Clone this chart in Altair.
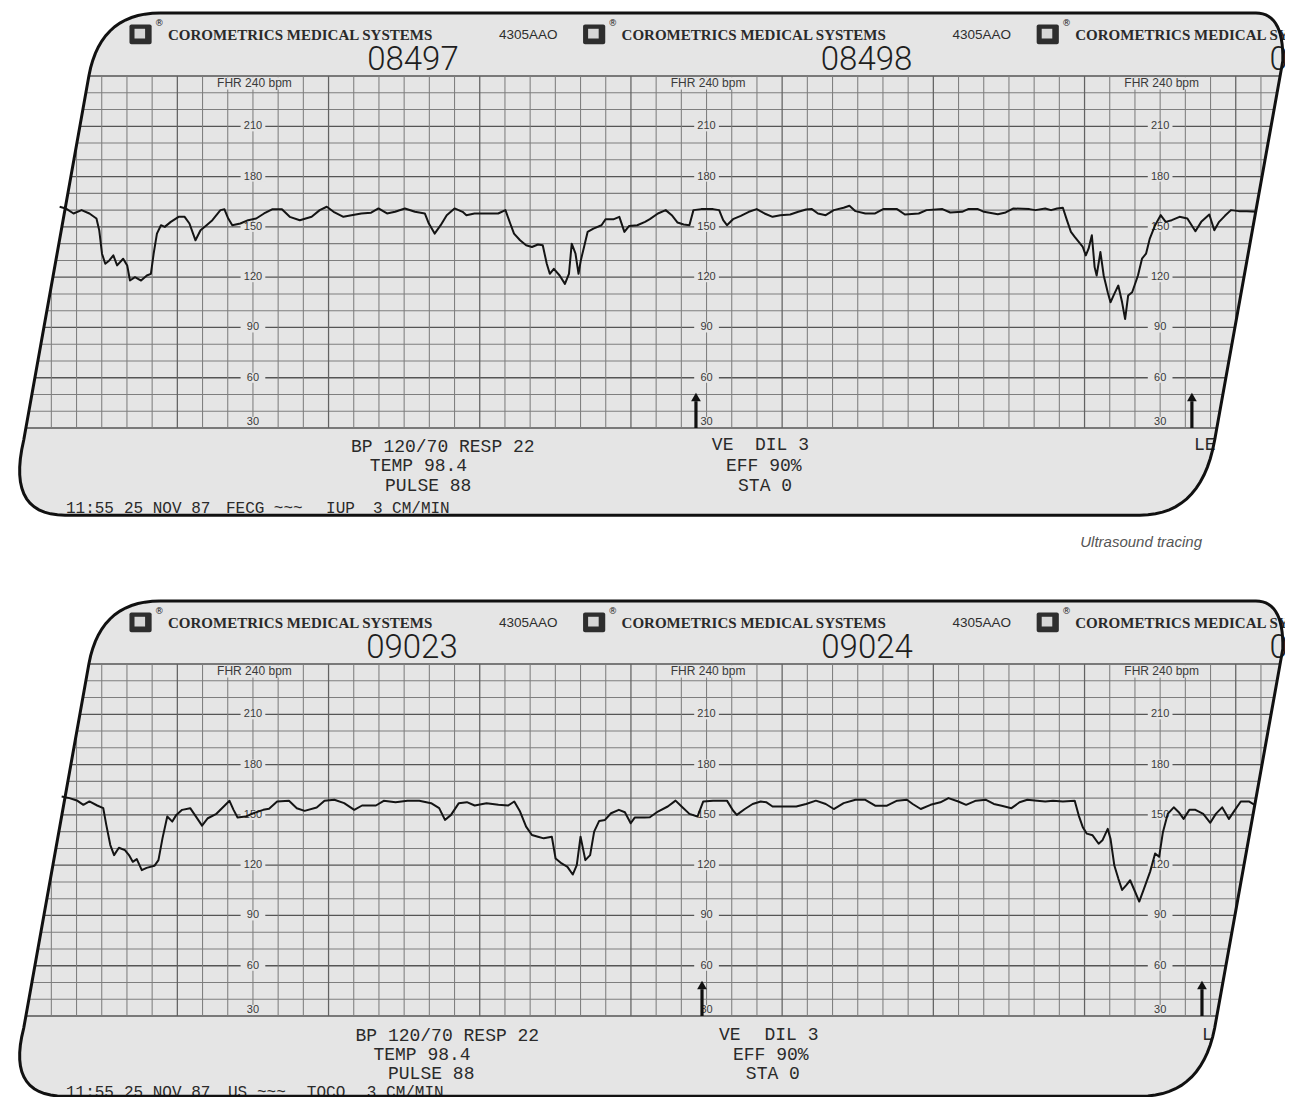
import altair as alt
import pandas as pd
import numpy as np

# ---------------- values ----------------
# time in seconds relative to the first printed scale column, FHR in bpm
top_time = [-76.7, -74.3, -71.2, -68.0, -64.9, -62.1, -61.0, -59.9, -58.6, -57.0,
            -55.4, -53.9, -51.5, -49.9, -48.8, -46.8, -44.4, -42.1, -40.5, -39.4,
            -38.1, -36.5, -35.0, -32.6, -29.5, -27.1, -25.2, -22.8, -20.8, -18.4,
            -16.1, -12.9, -11.3, -9.8, -8.2, -5.0, -1.9, 1.3, 4.4, 7.6,
            11.5, 14.6, 18.6, 23.3, 26.5, 29.3, 32.0, 35.9, 39.1, 43.0,
            46.9, 49.8, 53.2, 56.4, 60.3, 64.3, 68.2, 69.8, 72.1, 74.5,
            76.9, 80.0, 83.2, 84.7, 87.9, 92.6, 97.3, 100.2, 102.1, 103.6,
            106.0, 108.4, 110.7, 113.1, 115.0, 116.6, 117.8, 119.4, 121.7, 123.8,
            125.4, 126.5, 128.0, 129.2, 130.1, 131.7, 132.8, 135.1, 138.3, 139.9,
            143.0, 145.4, 147.4, 149.3, 152.5, 155.6,
            157.5, 160.7, 163.8, 166.2, 168.5, 170.9, 173.2, 174.8, 177.9, 182.6,
            185.0, 186.6, 188.1, 190.5, 193.6, 196.8, 199.9, 203.0, 206.2, 209.3,
            213.2, 216.4, 219.5, 221.8, 224.2, 227.3, 230.5, 234.4, 236.7, 239.1,
            243.0, 246.9, 250.1, 255.6, 258.7, 264.2, 267.3, 273.6, 276.7, 281.4,
            283.8, 287.7, 290.1, 295.6, 298.7, 301.8, 308.1, 310.5, 314.4, 316.7,
            319.1, 321.4, 323.0, 324.6, 326.1, 327.7, 329.3, 330.5, 331.6, 332.9,
            334.0, 334.8, 336.3, 337.6, 339.2, 340.3, 341.8, 343.4, 344.9, 346.1,
            347.3, 348.9, 351.2, 352.8, 354.4, 355.9, 358.0, 360.2, 362.2, 364.6,
            367.7, 370.8, 374.0, 376.3, 379.5, 381.5, 383.4, 385.7, 388.1, 391.2,
            394.4, 398.3]
top_fhr = [162, 161, 158, 160, 158, 155, 148, 134, 128, 130,
           133, 127, 131, 127, 118, 120, 118, 121, 122, 134,
           146, 151, 150, 153, 156, 156, 152, 142, 148, 151,
           154, 160, 160.5, 155, 151, 152, 154, 155, 158, 160.5,
           160.5, 156, 154, 156, 160, 162, 159, 156, 157, 158,
           158.5, 161, 158, 159, 161, 159, 158, 152, 146, 151,
           157, 161, 159, 157, 158, 158, 158, 160, 152, 146,
           142, 139, 138, 139.5, 139, 128, 122, 125, 121, 116,
           122, 140, 134, 122, 130, 140, 147, 149, 151, 154.5,
           154.5, 156, 147, 150.6, 151, 153,
           154.6, 158, 160, 157, 152.6, 151.4, 151, 160, 160.6, 160.6,
           160, 154, 151, 154.6, 156.6, 159, 160.6, 158, 156, 157,
           157.4, 159, 160.4, 160.6, 158, 157, 160, 161.4, 162.6, 159.4,
           158, 158, 160.6, 160.6, 157.4, 158, 160, 160.6, 158.6, 159,
           160.6, 160.6, 159, 157.6, 158.6, 161, 160.6, 160, 161, 160,
           161, 161.4, 154, 147, 144, 141, 138, 133, 137, 145,
           126, 121, 135, 121, 111, 105, 110, 115, 105, 95,
           109, 111, 121, 131, 134, 143, 151, 157, 153, 154,
           156, 155, 147.4, 153, 157.4, 148, 153, 156.6, 160, 159.4,
           159.4, 159]

bottom_time = [-75.9, -72.8, -69.6, -67.3, -64.9, -61.8, -59.4, -58.2, -56.6, -55.1,
               -53.2, -50.8, -49.2, -47.7, -46.1, -44.1, -42.2, -39.1, -37.5, -35.9,
               -34.0, -32.0, -30.4, -28.1, -24.9, -22.6, -20.2, -17.9, -14.7, -11.6,
               -9.3, -7.7, -6.1, -3.0, 0.2, 4.1, 6.4, 9.6, 14.3, 17.4,
               20.5, 25.3, 28.4, 32.3, 36.2, 40.2, 43.3, 48.8, 51.9, 56.6,
               61.3, 66.0, 70.7, 73.9, 76.2, 78.6, 81.7, 84.9, 88.0, 92.7,
               97.4, 101.3, 103.7, 106.0, 108.4, 110.7, 113.1, 115.4, 118.6, 120.1,
               122.5, 124.8, 126.9, 128.5, 130.0, 131.9, 133.8, 135.4, 137.4, 139.7,
               142.1, 145.2, 147.6, 149.9, 151.5, 155.4,
               157.5, 160.7, 164.6, 167.7, 170.1, 173.2, 176.4, 178.7, 182.6, 188.1,
               190.5, 192.0, 195.2, 198.3, 201.5, 203.8, 206.2, 210.9, 215.6, 219.5,
               223.4, 227.3, 230.5, 234.4, 239.1, 243.0, 246.9, 251.6, 255.6, 259.5,
               261.8, 265.0, 268.9, 272.8, 276.0, 279.9, 283.0, 286.9, 290.9, 294.0,
               297.1, 301.0, 304.2, 307.3, 311.2, 314.4, 317.5, 321.4, 326.1, 327.7,
               329.3, 330.9, 333.2, 335.6, 337.1, 339.2, 340.3, 341.8, 343.4, 344.9,
               346.5, 348.1, 350.1, 351.7, 353.6, 356.0, 358.0, 359.6, 361.1, 363.0,
               365.4, 367.4, 369.3, 371.6, 374.0, 377.1, 379.9, 382.1, 384.6, 387.3,
               389.7, 392.0, 395.2, 397.5]
bottom_fhr = [161, 160, 158.4, 156, 158, 155.6, 154, 144, 132, 126,
              130.4, 129, 126, 122, 123.6, 117, 118.4, 119.6, 123, 136,
              149, 146, 150, 153, 154, 149, 143.6, 148, 150.4, 155,
              158.4, 153, 148.4, 149, 151, 153, 153.6, 158, 158.4, 154,
              152.4, 154.4, 158.4, 159, 157, 153, 155.6, 155.6, 158.4, 157.6,
              158.4, 158.4, 157, 154, 147, 150, 157, 157.6, 155.6, 157,
              156, 155.6, 158, 152, 143, 138, 137, 136, 137, 124,
              121, 119, 114.4, 120, 137, 123, 126, 140, 146.4, 147,
              151, 153, 151.6, 145, 148.4, 148.4,
              148.6, 152, 155, 158.5, 155, 150.6, 149, 158, 158.5, 158.5,
              152.6, 150, 153.5, 156.5, 158, 157.5, 155, 155, 155, 156.5,
              158.5, 156.5, 153.5, 157, 159, 159, 155.5, 155.5, 158.5, 159,
              156.5, 153.5, 156, 157.5, 160, 158, 156, 158.5, 159, 156.5,
              155.5, 154, 157.5, 159, 158.5, 158, 158.5, 158, 158.5, 149.6,
              142.7, 138.8, 137.8, 132.8, 134.8, 141.7, 135.8, 120, 112, 105.2,
              108, 111, 104, 98.3, 106, 116, 127, 125, 139.7, 150.6,
              154.5, 151.6, 147.6, 153, 153, 150.6, 145.3, 150.6, 154.5, 147.6,
              153, 158, 158, 156]

scale_values = [210, 180, 150, 120, 90, 60, 30]
scale_columns = [0, 180, 360]
top_pages = ["08497", "08498", "0"]
bottom_pages = ["09023", "09024", "0"]
top_notes = ["BP 120/70 RESP 22", "TEMP 98.4", "PULSE 88", "VE", "DIL 3", "EFF 90%", "STA 0", "LE"]
bottom_notes = ["BP 120/70 RESP 22", "TEMP 98.4", "PULSE 88", "VE", "DIL 3", "EFF 90%", "STA 0", "L"]
top_status = ["11:55", "25 NOV 87", "FECG", "~~~", "IUP", "3 CM/MIN"]
bottom_status = ["11:55", "25 NOV 87", "US", "~~~", "TOCO", "3 CM/MIN"]

# ---------------- layout (data units: seconds / bpm) ----------------
W, H = 1277, 1089
PX_T = 2.52          # px per second
PX_B = 1.676         # px per bpm
T_DOMAIN = [-97.2, -97.2 + W / PX_T]
Y_DOMAIN = [280.6 - H / PX_B, 280.6]
PANEL_SHIFT = 588 / PX_B   # second strip sits 588 px lower

PAPER = "#e5e5e5"
THIN = "#7e7e7e"
THICK = "#555555"
VTHICK = "#626262"
INK = "#141414"


def left_edge(b):
    return -90.1 + 0.119 * (b - 30)


def right_edge(b):
    return 382.5 + 0.1195 * (b - 30)


def bez(p0, p1, p2, n=16):
    s = np.linspace(0, 1, n)
    t = (1 - s) ** 2 * p0[0] + 2 * (1 - s) * s * p1[0] + s ** 2 * p2[0]
    b = (1 - s) ** 2 * p0[1] + 2 * (1 - s) * s * p1[1] + s ** 2 * p2[1]
    return list(zip(t, b))


def frame_points(bt, bb):
    pts = [(-36.9, bt)]
    pts += bez((398.0, bt), (409.1, bt), (right_edge(249.0), 249.0))
    pts += bez((right_edge(22.8), 22.8), (376.3, bb), (352.0, bb))
    pts += bez((-74.6, bb), (-98.0, bb), (left_edge(22.8), 22.8))
    pts += bez((left_edge(240), 240), (-60.6, bt), (-36.9, bt))
    return pd.DataFrame({"t": [p[0] for p in pts], "b": [p[1] for p in pts],
                         "o": list(range(len(pts)))})


hrows = []
for v in range(30, 250, 10):
    hrows.append({"t": left_edge(v), "t2": right_edge(v), "b": v, "thick": v % 30 == 0})
hgrid = pd.DataFrame(hrows)
vrows = []
for tt in range(-90, 410, 10):
    lo, hi = 30.0, 240.0
    if tt < left_edge(240):
        hi = 30 + (tt - left_edge(30)) / 0.119
    if tt > right_edge(30):
        lo = 30 + (tt - right_edge(30)) / 0.1195
    if hi - lo > 1:
        vrows.append({"t": tt, "b": lo, "b2": hi, "thick": (tt - 30) % 60 == 0})
vgrid = pd.DataFrame(vrows)

lab_rows, bg_rows = [], []
for c in scale_columns:
    for v in scale_values:
        bpos = 33.6 if v == 30 else v
        lab_rows.append({"t": c, "b": bpos, "txt": str(v)})
        bg_rows.append({"t": c - 4.9, "t2": c + 4.9, "b": bpos - 3.0, "b2": bpos + 3.0})
    lab_rows.append({"t": c + 0.6, "b": 235.6, "txt": "FHR 240 bpm"})
    bg_rows.append({"t": c - 16.5, "t2": c + 17.5, "b": 232.0, "b2": 239.3})
labels_df = pd.DataFrame(lab_rows)
labbg_df = pd.DataFrame(bg_rows)

xs = alt.Scale(domain=T_DOMAIN, nice=False, zero=False)
ys = alt.Scale(domain=Y_DOMAIN, nice=False, zero=False)


def X(f):
    return alt.X(f, type="quantitative", scale=xs, axis=None)


def Y(f):
    return alt.Y(f, type="quantitative", scale=ys, axis=None)


def shifted(df, off, cols=("b", "b2")):
    d = df.copy()
    for c in cols:
        if c in d.columns:
            d[c] = d[c] - off
    return d


def make_panel(off, times, fhr, pages, page_t, notes, note_t, note_b, status, status_t, status_b,
               arrows_t, bottom_b, caption=None):
    L = []
    frame_df = shifted(frame_points(277.6, bottom_b), off)
    L.append(alt.Chart(frame_df).mark_line(fill=PAPER, strokeWidth=0, clip=True)
             .encode(x=X("t"), y=Y("b"), order="o:Q"))
    for thick, col, sw in [(False, THIN, 1.05), (True, THICK, 1.35)]:
        L.append(alt.Chart(shifted(hgrid[hgrid.thick == thick], off))
                 .mark_rule(color=col, strokeWidth=sw, clip=True)
                 .encode(x=X("t"), x2="t2:Q", y=Y("b")))
    for thick, col, sw in [(False, THIN, 1.05), (True, VTHICK, 1.25)]:
        L.append(alt.Chart(shifted(vgrid[vgrid.thick == thick], off))
                 .mark_rule(color=col, strokeWidth=sw, clip=True)
                 .encode(x=X("t"), y=Y("b"), y2="b2:Q"))
    L.append(alt.Chart(shifted(labbg_df, off)).mark_rect(fill=PAPER, clip=True)
             .encode(x=X("t"), x2="t2:Q", y=Y("b"), y2="b2:Q"))
    lab = shifted(labels_df, off)
    L.append(alt.Chart(lab[lab.txt != "FHR 240 bpm"])
             .mark_text(font="Liberation Sans", fontSize=11, color="#3a3a3a", baseline="middle", clip=True)
             .encode(x=X("t"), y=Y("b"), text="txt:N"))
    L.append(alt.Chart(lab[lab.txt == "FHR 240 bpm"])
             .mark_text(font="Liberation Sans", fontSize=12, color="#3a3a3a", baseline="middle", clip=True)
             .encode(x=X("t"), y=Y("b"), text="txt:N"))
    # header
    hdr = pd.DataFrame({"t": [-33.7, 146.3, 326.3], "b": [264.5 - off] * 3,
                        "txt": ["COROMETRICS MEDICAL SYSTEMS"] * 3})
    L.append(alt.Chart(hdr).mark_text(font="Liberation Serif", fontWeight="bold", fontSize=15,
                                      color="#2a2a2a", align="left", baseline="middle", clip=True)
             .encode(x=X("t"), y=Y("b"), text="txt:N"))
    code = pd.DataFrame({"t": [97.6, 277.6], "b": [264.5 - off] * 2, "txt": ["4305AAO"] * 2})
    L.append(alt.Chart(code).mark_text(font="Liberation Sans", fontSize=13.5, color="#2e2e2e",
                                       align="left", baseline="middle", clip=True)
             .encode(x=X("t"), y=Y("b"), text="txt:N"))
    logo_c = [-44.4, 135.6, 315.6]
    logo = pd.DataFrame({"t": [c - 4.6 for c in logo_c], "t2": [c + 4.2 for c in logo_c],
                         "b": [259.0 - off] * 3, "b2": [270.8 - off] * 3})
    L.append(alt.Chart(logo).mark_rect(fill="#2e2e2e", cornerRadius=2, clip=True)
             .encode(x=X("t"), x2="t2:Q", y=Y("b"), y2="b2:Q"))
    inner = pd.DataFrame({"t": [c - 2.6 for c in logo_c], "t2": [c + 1.6 for c in logo_c],
                          "b": [262.4 - off] * 3, "b2": [268.2 - off] * 3})
    L.append(alt.Chart(inner).mark_rect(fill="#d6d6d6", clip=True)
             .encode(x=X("t"), x2="t2:Q", y=Y("b"), y2="b2:Q"))
    reg = pd.DataFrame({"t": [c + 7.2 for c in logo_c], "b": [271.6 - off] * 3, "txt": ["®"] * 3})
    L.append(alt.Chart(reg).mark_text(font="DejaVu Sans", fontSize=9, color="#222",
                                      baseline="middle", clip=True)
             .encode(x=X("t"), y=Y("b"), text="txt:N"))
    pg = pd.DataFrame({"t": page_t, "b": [249.6 - off] * len(pages), "txt": pages})
    L.append(alt.Chart(pg).mark_text(font="Roboto", fontWeight=300, fontSize=33, color="#1e1e1e",
                                     baseline="middle", clip=True)
             .encode(x=X("t"), y=Y("b"), text="txt:N"))
    # footer
    nt = pd.DataFrame({"t": note_t, "b": [v - off for v in note_b], "txt": notes})
    L.append(alt.Chart(nt).mark_text(font="Liberation Mono", fontSize=18, color="#2a2a2a",
                                     align="left", baseline="middle", clip=True)
             .encode(x=X("t"), y=Y("b"), text="txt:N"))
    st = pd.DataFrame({"t": status_t, "b": [status_b - off] * len(status), "txt": status})
    L.append(alt.Chart(st).mark_text(font="Liberation Mono", fontSize=16, color="#2a2a2a",
                                     align="left", baseline="middle", clip=True)
             .encode(x=X("t"), y=Y("b"), text="txt:N"))
    # arrows
    ar = pd.DataFrame({"t": arrows_t, "b": [30.0 - off] * 2, "b2": [46.0 - off] * 2})
    L.append(alt.Chart(ar).mark_rule(color="#111", strokeWidth=3.2, clip=True)
             .encode(x=X("t"), y=Y("b"), y2="b2:Q"))
    ah = pd.DataFrame({"t": arrows_t, "b": [48.5 - off] * 2})
    L.append(alt.Chart(ah).mark_point(shape="triangle-up", filled=True, size=95, color="#111",
                                      opacity=1, clip=True)
             .encode(x=X("t"), y=Y("b")))
    # FHR tracing
    tr = pd.DataFrame({"t": times, "fhr": fhr})
    L.append(alt.Chart(tr).transform_calculate(b=f"datum.fhr - {off}")
             .mark_line(color=INK, strokeWidth=2, strokeJoin="round", clip=True)
             .encode(x=X("t"), y=Y("b"), order="t:Q"))
    # frame outline
    L.append(alt.Chart(frame_df).mark_line(color="#111", strokeWidth=3, clip=True)
             .encode(x=X("t"), y=Y("b"), order="o:Q"))
    if caption is not None:
        cap = pd.DataFrame({"t": [caption[1]], "b": [caption[2] - off], "txt": [caption[0]]})
        L.append(alt.Chart(cap).mark_text(font="Liberation Sans", fontStyle="italic", fontSize=15,
                                          color="#555", align="right", baseline="middle", clip=True)
                 .encode(x=X("t"), y=Y("b"), text="txt:N"))
    return L


top_layers = make_panel(0.0, top_time, top_fhr, top_pages, [63.5, 243.5, 407.0],
                        top_notes, [38.9, 46.4, 52.4, 182.1, 199.2, 187.7, 192.5, 373.4],
                        [18.8, 7.3, -4.9, 19.9, 19.9, 7.3, -4.9, 19.9],
                        top_status, [-74.2, -51.2, -10.7, 8.3, 29.0, 47.6], -18.0,
                        [175.8, 372.6], -22.0,
                        caption=("Ultrasound tracing", 376.6, -38.0))
bottom_layers = make_panel(PANEL_SHIFT, bottom_time, bottom_fhr, bottom_pages, [63.1, 243.7, 407.0],
                           bottom_notes, [40.7, 47.8, 53.6, 184.9, 203.0, 190.5, 195.6, 376.6],
                           [17.8, 6.6, -4.8, 18.6, 18.6, 6.6, -4.8, 18.6],
                           bottom_status, [-74.2, -51.2, -9.9, 1.6, 21.4, 45.2], -15.4,
                           [178.2, 376.6], -17.9)

chart = alt.layer(*(top_layers + bottom_layers)).properties(
    width=W, height=H, padding=0, autosize=alt.AutoSizeParams(type="none"),
    background="white",
).configure_view(strokeWidth=0, stroke="transparent")
chart.save("out.html", embed_options={"renderer": "svg", "actions": False})
